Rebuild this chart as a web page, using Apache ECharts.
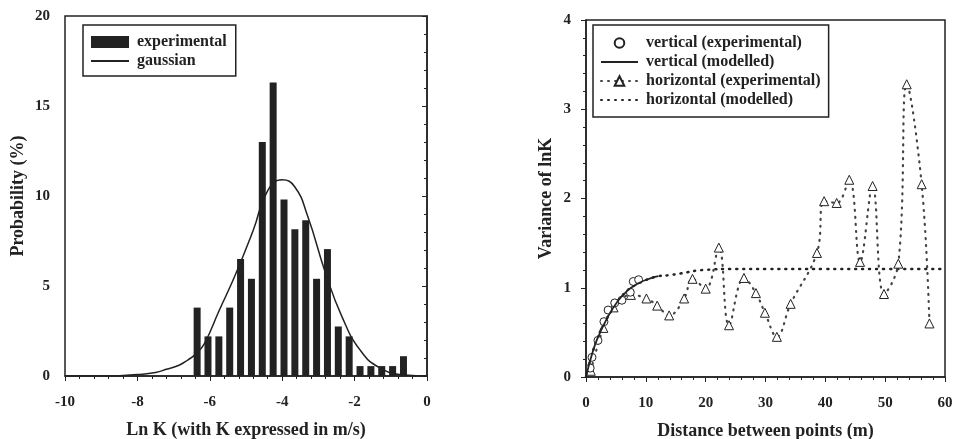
<!DOCTYPE html>
<html>
<head>
<meta charset="utf-8">
<script src="https://cdn.jsdelivr.net/npm/echarts@6/dist/echarts.min.js"></script>
<style>
  html, body { margin: 0; padding: 0; background: #fff; }
  #chart { width: 959px; height: 439px; }
</style>
</head>
<body>
<div id="chart"></div>
<script>
// left panel: histogram of ln K
var binCentres = [-6.35, -6.05, -5.75, -5.45, -5.15, -4.85, -4.55, -4.25, -3.95, -3.65,
                  -3.35, -3.05, -2.75, -2.45, -2.15, -1.85, -1.55, -1.25, -0.95, -0.65];
var probability = [3.8, 2.2, 2.2, 3.8, 6.5, 5.4, 13.0, 16.3, 9.8, 8.15,
                   8.65, 5.4, 7.05, 2.75, 2.2, 0.55, 0.55, 0.55, 0.55, 1.1];
var gaussX = [-10, -9, -8.5, -8, -7.5, -7.2, -6.85, -6.6, -6.4, -6.15, -5.75, -5.3,
              -4.8, -4.4, -4.0, -3.65, -3.3, -2.8, -2.35, -1.85, -1.3, -0.6, 0];
var gaussY = [0, 0, 0.02, 0.08, 0.2, 0.37, 0.6, 0.9, 1.2, 1.8, 3.6, 5.6,
              8.1, 10.3, 10.9, 10.5, 8.9, 5.7, 3.3, 1.45, 0.45, 0.05, 0];

// right panel: variograms
var vertExpD = [0.7, 1.0, 2.0, 3.0, 3.7, 4.8, 6.0, 7.4, 7.9, 8.8];
var vertExpV = [0.1, 0.22, 0.41, 0.62, 0.75, 0.83, 0.86, 0.95, 1.07, 1.09];
var vertModD = [0, 1.2, 2.3, 3.7, 5.1, 6.8, 8.75, 11, 12.1];
var vertModV = [0, 0.30, 0.49, 0.68, 0.83, 0.96, 1.05, 1.11, 1.13];
var horExpD = [0.8, 2.9, 4.6, 7.5, 10.1, 11.9, 13.9, 16.4, 17.8, 20.0, 22.2, 23.9, 26.4, 28.4,
               29.9, 31.9, 34.2, 38.6, 39.8, 41.9, 44.0, 45.8, 47.9, 49.8, 52.2, 53.6, 56.1, 57.4];
var horExpV = [0.07, 0.55, 0.78, 0.92, 0.88, 0.80, 0.69, 0.88, 1.10, 0.99, 1.45, 0.58, 1.11, 0.94,
               0.72, 0.45, 0.82, 1.39, 1.97, 1.95, 2.21, 1.29, 2.14, 0.93, 1.27, 3.28, 2.16, 0.60];
var horModD = [0, 1.2, 2.3, 3.7, 5.1, 6.8, 8.75, 11, 12.1, 13.8, 15.8, 19.8, 25, 30, 40, 50, 60];
var horModV = [0, 0.30, 0.49, 0.68, 0.83, 0.96, 1.05, 1.11, 1.13, 1.14, 1.16, 1.2, 1.21, 1.21, 1.21, 1.21, 1.21];

function pairs(xs, ys) {
    return xs.map(function (x, i) { return [x, ys[i]]; });
}

var ink = '#222';
var font = 'Liberation Serif';
var tickText = { color: ink, fontFamily: font, fontWeight: 'bold', fontSize: 15 };
var nameText = { color: ink, fontFamily: font, fontWeight: 'bold', fontSize: 18 };
var legendText = { color: ink, fontFamily: font, fontWeight: 'bold', fontSize: 16, padding: [0, 0, 0, 3] };

function axis(gridIndex, min, max, interval, name, nameGap, margin) {
    return {
        type: 'value', gridIndex: gridIndex, min: min, max: max, interval: interval,
        name: name, nameLocation: 'middle', nameGap: nameGap, nameTextStyle: nameText,
        axisLine: { show: true, lineStyle: { color: ink, width: 1.5 } },
        axisTick: { show: true, length: 5, lineStyle: { color: ink, width: 1 } },
        minorTick: { show: true, splitNumber: 5, length: 3, lineStyle: { color: ink } },
        axisLabel: Object.assign({ margin: margin }, tickText),
        splitLine: { show: false }
    };
}

// hides the marker in a line legend icon, keeps the stroke
var noMarker = { opacity: 0 };

var myChart = echarts.init(document.getElementById('chart'));
var option = {
    backgroundColor: '#fff',
    animation: false,
    grid: [
        { left: 65, top: 16, width: 362, height: 360, outerBoundsMode: 'none',
          show: true, borderColor: ink, borderWidth: 1.5 },
        { left: 586, top: 20, width: 359, height: 357, outerBoundsMode: 'none',
          show: true, borderColor: ink, borderWidth: 1.5 }
    ],
    xAxis: [
        axis(0, -10, 0, 2, 'Ln K (with K expressed in m/s)', 45, 19),
        axis(1, 0, 60, 10, 'Distance between points (m)', 45, 19)
    ],
    yAxis: [
        axis(0, 0, 20, 5, 'Probability (%)', 38, 15),
        axis(1, 0, 4, 1, 'Variance of lnK', 31, 15)
    ],
    legend: [
        {
            data: [{ name: 'experimental', icon: 'rect' },
                   { name: 'gaussian', itemStyle: noMarker }],
            orient: 'vertical', left: 83, top: 25,
            itemWidth: 38, itemHeight: 12, itemGap: 3,
            padding: [9, 9, 7, 7],
            borderColor: ink, borderWidth: 1.5, borderRadius: 0,
            textStyle: legendText
        },
        {
            data: ['vertical (experimental)',
                   { name: 'vertical (modelled)', itemStyle: noMarker },
                   'horizontal (experimental)',
                   { name: 'horizontal (modelled)', itemStyle: noMarker }],
            orient: 'vertical', left: 593, top: 25,
            itemWidth: 37, itemHeight: 12, itemGap: 3,
            padding: [10, 8, 9, 7],
            borderColor: ink, borderWidth: 1.5, borderRadius: 0,
            textStyle: legendText
        }
    ],
    series: [
        {
            name: 'experimental', type: 'bar', xAxisIndex: 0, yAxisIndex: 0,
            barWidth: 7, itemStyle: { color: ink },
            data: pairs(binCentres, probability)
        },
        {
            name: 'gaussian', type: 'line', xAxisIndex: 0, yAxisIndex: 0,
            smooth: true, symbol: 'none', z: 5,
            lineStyle: { color: ink, width: 1.5 },
            itemStyle: { color: ink },
            data: pairs(gaussX, gaussY)
        },
        {
            name: 'horizontal (modelled)', type: 'line', xAxisIndex: 1, yAxisIndex: 1,
            smooth: true, symbol: 'none',
            lineStyle: { color: ink, width: 2.5, type: [1, 6], cap: 'round' },
            itemStyle: { color: ink },
            data: pairs(horModD, horModV)
        },
        {
            name: 'horizontal (experimental)', type: 'line', xAxisIndex: 1, yAxisIndex: 1,
            smooth: 0.4, symbol: 'triangle', symbolSize: 9,
            lineStyle: { color: '#444', width: 2.2, type: [1, 6], cap: 'round' },
            itemStyle: { color: '#fff', borderColor: ink, borderWidth: 1 },
            data: pairs(horExpD, horExpV)
        },
        {
            name: 'vertical (modelled)', type: 'line', xAxisIndex: 1, yAxisIndex: 1,
            smooth: true, symbol: 'none', z: 4,
            lineStyle: { color: ink, width: 1.8 },
            itemStyle: { color: ink },
            data: pairs(vertModD, vertModV)
        },
        {
            name: 'vertical (experimental)', type: 'line', xAxisIndex: 1, yAxisIndex: 1,
            symbol: 'circle', symbolSize: 8, z: 3,
            lineStyle: { opacity: 0 },
            itemStyle: { color: '#fff', borderColor: ink, borderWidth: 1 },
            data: pairs(vertExpD, vertExpV)
        }
    ]
};
myChart.setOption(option);

window.addEventListener('resize', function () {
    myChart.resize();
});
</script>
</body>
</html>
